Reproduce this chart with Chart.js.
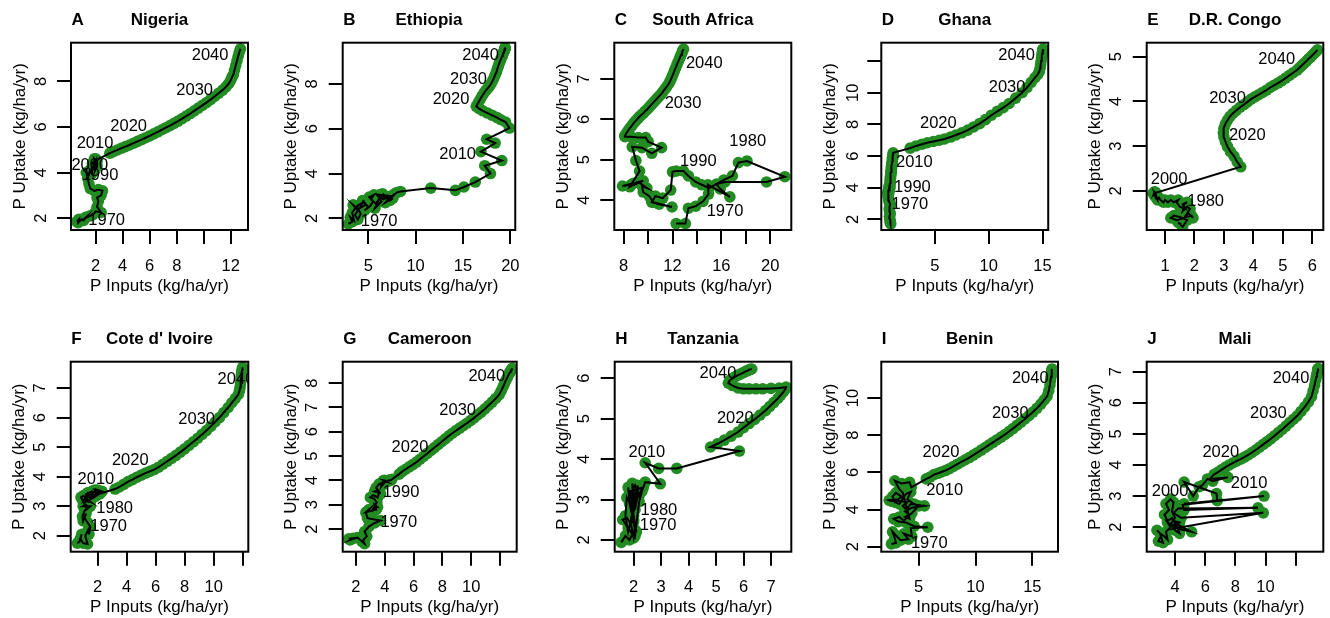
<!DOCTYPE html>
<html>
<head>
<meta charset="utf-8">
<script src="https://cdn.jsdelivr.net/npm/chart.js@4.4.1/dist/chart.umd.min.js"></script>
<style>
  body { margin: 0; background: #fff; }
  #wrap { position: relative; width: 1330px; height: 618px; }
  #wrap canvas { position: absolute; }
</style>
</head>
<body>
<div id="wrap"></div>
<script>
// ---- data: P inputs (x) vs P uptake (y), kg/ha/yr, one point per year 1961..2050
const countries = ['Nigeria', 'Ethiopia', 'South Africa', 'Ghana', 'D.R. Congo',
  "Cote d' Ivoire", 'Cameroon', 'Tanzania', 'Benin', 'Mali'];
const panelLetters = ['A', 'B', 'C', 'D', 'E', 'F', 'G', 'H', 'I', 'J'];

const nigeria = [
  [0.6,1.85],[0.75,1.95],[0.7,1.8],[0.95,1.95],[1.1,1.9],[1.3,2.05],[1.2,2.0],[1.6,2.1],[1.8,2.15],[2.0,2.3],
  [2.4,2.25],[2.1,2.5],[2.2,2.75],[2.1,2.9],[2.4,3.0],[2.5,3.2],[2.2,3.25],[1.9,3.2],[1.6,3.3],[1.5,3.5],
  [1.4,3.75],[1.5,3.9],[1.3,4.0],[1.45,3.85],[1.55,4.05],[1.7,3.95],[1.6,4.1],[1.75,4.0],[1.7,4.2],[1.85,4.3],
  [1.9,4.5],[1.75,4.4],[2.0,4.35],[1.9,4.6],[2.05,4.5],[1.85,4.2],[2.0,4.45],[1.95,4.1],[2.1,4.3],[1.9,4.55],
  [2.05,4.4],[1.95,4.25],[2.1,4.5],[1.9,4.35],[2.0,4.6],[1.95,4.45],[2.05,4.3],[1.95,4.5],[2.0,4.4],[2.05,4.55],
  [3.05,4.85],[3.3,4.92],[3.6,4.99],[3.9,5.07],[4.2,5.14],[4.5,5.21],[4.8,5.29],[5.1,5.37],[5.4,5.45],[5.7,5.53],
  [6.0,5.61],[6.3,5.7],[6.6,5.79],[6.9,5.88],[7.2,5.97],[7.5,6.06],[7.8,6.16],[8.1,6.26],[8.4,6.37],[8.7,6.48],
  [9.0,6.59],[9.3,6.71],[9.6,6.83],[9.9,6.95],[10.2,7.07],[10.5,7.2],[10.8,7.34],[11.1,7.48],[11.4,7.62],[11.65,7.76],
  [11.85,7.9],[12.0,8.05],[12.1,8.2],[12.2,8.3],[12.28,8.5],[12.37,8.7],[12.46,8.9],[12.55,9.1],[12.63,9.28],[12.72,9.43]
];
const ethiopia = [
  [2.9,1.75],[3.3,1.85],[3.1,2.05],[3.5,1.9],[3.3,2.25],[3.7,2.5],[3.4,2.6],[3.9,2.35],[3.6,2.15],[3.9,1.95],
  [4.2,2.2],[3.8,2.55],[4.4,2.7],[4.1,2.45],[4.7,2.6],[4.4,2.8],[5.0,2.5],[4.6,2.35],[5.2,2.55],[5.5,2.75],
  [5.1,2.95],[5.6,3.05],[5.3,2.85],[5.8,2.65],[6.2,2.9],[5.7,2.45],[6.4,2.75],[6.0,3.0],[6.6,2.85],[7.0,2.95],
  [6.5,3.1],[7.3,2.8],[7.6,2.9],[6.8,2.7],[7.4,3.0],[6.2,3.05],[7.1,2.85],[7.8,3.1],[7.5,2.95],[8.0,3.15],[8.4,3.2],
  [11.6,3.35],[14.2,3.25],[15.1,3.4],[16.3,3.62],[17.9,4.0],[17.3,4.35],[19.1,4.58],[16.9,4.98],[18.4,5.36],[17.5,5.53],[19.9,6.03],
  [19.5,6.3],[19.0,6.4],[18.6,6.5],[18.1,6.6],[17.6,6.7],[17.1,6.8],[16.7,6.9],[16.4,7.0],
  [16.6,7.15],[16.8,7.3],[17.0,7.45],[17.2,7.58],[17.4,7.7],[17.6,7.8],[17.8,7.9],[17.95,8.0],[18.1,8.12],[18.25,8.25],
  [18.4,8.4],[18.55,8.55],[18.65,8.7],[18.75,8.82],[18.85,8.95],[18.95,9.05],[19.05,9.15],[19.15,9.25],[19.2,9.32],[19.25,9.38],
  [19.3,9.42],[19.33,9.46],[19.36,9.49],[19.38,9.52],[19.4,9.54],[19.42,9.56],[19.43,9.58],[19.44,9.59],[19.45,9.6],[19.46,9.61]
];
const southAfrica = [
  [12.3,3.42],[13.05,3.42],[13.3,3.8],[13.9,3.85],[14.5,3.97],[14.95,4.15],[14.9,4.38],[16.7,4.08],[15.9,4.28],[15.6,4.4],
  [16.3,4.45],[19.7,4.45],[21.2,4.58],[18.1,4.97],[17.4,4.93],[16.9,4.6],[16.2,4.5],[15.0,4.3],[14.4,4.38],[13.9,4.45],
  [13.3,4.6],[12.9,4.72],[12.3,4.72],[12.0,4.7],[11.85,4.25],[11.2,4.05],[10.6,4.1],[10.3,3.95],[10.9,3.9],[11.96,3.83],
  [10.4,3.95],[10.1,4.1],[9.6,4.2],[9.5,4.35],[9.9,4.3],[9.2,4.45],[8.6,4.38],[7.9,4.35],[8.8,4.42],[9.6,4.48],
  [8.5,4.33],[9.3,4.72],[9.0,4.98],[8.7,5.32],[9.5,5.3],[10.3,5.16],[11.1,5.3],[10.0,5.45],[9.8,5.55],[9.2,5.55],[8.6,5.57],[8.1,5.57],
  [8.1,5.6],[8.25,5.67],[8.4,5.74],[8.55,5.8],[8.7,5.86],[8.85,5.92],[9.0,5.97],[9.15,6.02],[9.3,6.07],[9.45,6.11],
  [9.6,6.15],[9.75,6.2],[9.9,6.24],[10.05,6.29],[10.2,6.34],[10.35,6.39],[10.5,6.44],[10.65,6.49],[10.8,6.54],[10.95,6.59],
  [11.1,6.64],[11.25,6.7],[11.4,6.76],[11.55,6.82],[11.7,6.89],[11.82,6.96],[11.94,7.04],[12.05,7.12],[12.15,7.2],[12.25,7.27],
  [12.35,7.35],[12.45,7.42],[12.55,7.49],[12.63,7.55],[12.7,7.6],[12.77,7.65],[12.83,7.7],[12.9,7.74]
];
const ghana = [
  [0.85,1.8],[0.9,1.72],[0.85,1.9],[0.8,2.05],[0.78,2.2],[0.85,2.35],[0.8,2.5],[0.75,2.65],[0.82,2.8],[0.85,2.97],
  [0.78,3.05],[0.72,3.2],[0.68,3.35],[0.65,3.5],[0.7,3.6],[0.66,3.7],[0.7,3.78],[0.74,3.85],[0.7,3.72],[0.74,3.9],
  [0.68,3.82],[0.65,3.65],[0.7,3.75],[0.74,3.95],[0.76,4.05],[0.78,3.92],[0.75,4.1],[0.8,4.0],[0.78,3.95],[0.82,4.08],
  [0.8,4.2],[0.85,4.3],[0.83,4.45],[0.88,4.6],[0.86,4.7],[0.92,4.8],[0.9,4.95],[0.95,5.0],[0.93,5.1],[0.97,5.2],
  [0.95,5.3],[1.0,5.4],[1.02,5.5],[1.0,5.55],[1.04,5.65],[1.07,5.8],[1.05,5.9],[1.1,6.0],[1.12,6.1],[1.12,6.21],
  [2.7,6.5],[3.25,6.64],[3.8,6.75],[4.3,6.84],[4.85,6.92],[5.4,7.0],[5.9,7.08],[6.45,7.2],[6.95,7.33],[7.5,7.47],
  [8.05,7.64],[8.6,7.84],[9.15,8.05],[9.7,8.3],[10.25,8.58],[10.8,8.82],[11.35,9.06],[11.9,9.32],[12.5,9.66],[13.1,10.0],
  [13.55,10.32],[13.95,10.66],[14.3,10.95],[14.55,11.15],[14.7,11.33],[14.77,11.55],[14.82,11.78],[14.87,12.0],[14.91,12.2],[14.95,12.36],
  [14.98,12.48],[15.0,12.56],[15.02,12.62],[15.03,12.66],[15.04,12.69],[15.05,12.71],[15.05,12.72],[15.06,12.73],[15.06,12.74],[15.07,12.75]
];
const drCongo = [
  [1.55,1.25],[1.45,1.3],[1.6,1.2],[1.75,1.35],[1.5,1.42],[1.3,1.45],[1.2,1.4],[1.4,1.35],[1.65,1.4],[1.9,1.45],
  [1.95,1.4],[1.8,1.5],[1.7,1.45],[1.85,1.6],[1.75,1.65],[1.6,1.55],[1.65,1.7],[1.75,1.75],[1.6,1.7],[1.7,1.6],
  [1.5,1.65],[1.4,1.75],[1.45,1.8],[1.3,1.75],[1.2,1.8],[1.1,1.75],[1.0,1.8],[0.95,1.75],[0.85,1.8],[0.8,1.85],
  [0.75,1.8],[0.7,1.9],[0.65,1.95],[0.7,1.85],[0.6,1.95],[0.65,1.9],[0.7,1.95],[0.65,1.98],[0.62,1.93],[0.66,1.96],
  [0.63,1.94],[0.67,1.97],[0.64,1.95],[0.66,1.93],[0.63,1.96],[0.65,1.94],[0.64,1.97],[0.66,1.95],[0.65,1.96],[0.66,1.95],
  [3.57,2.54],[3.45,2.65],[3.34,2.78],[3.22,2.88],[3.12,2.99],[3.05,3.1],[3.0,3.2],[2.98,3.3],[3.0,3.4],[3.05,3.5],
  [3.12,3.58],[3.2,3.66],[3.3,3.73],[3.42,3.8],[3.55,3.87],[3.68,3.93],[3.8,3.99],[3.92,4.05],[4.05,4.1],[4.18,4.15],
  [4.31,4.2],[4.44,4.25],[4.57,4.31],[4.7,4.36],[4.83,4.41],[4.96,4.46],[5.09,4.52],[5.22,4.58],[5.35,4.64],[5.48,4.7],
  [5.56,4.75],[5.64,4.8],[5.72,4.85],[5.8,4.9],[5.87,4.95],[5.94,4.99],[6.0,5.03],[6.06,5.07],[6.12,5.11],[6.17,5.15]
];
const coteDIvoire = [
  [0.6,1.75],[0.75,1.8],[0.9,2.05],[0.8,1.9],[1.0,1.75],[1.3,1.72],[1.15,2.0],[1.35,2.2],[1.4,2.05],[1.5,2.3],
  [1.3,2.45],[1.1,2.6],[1.2,2.75],[1.0,2.5],[0.95,2.65],[1.1,2.85],[1.35,2.95],[1.2,3.05],[1.0,3.0],[1.5,3.0],
  [1.25,2.9],[1.05,3.1],[1.3,3.2],[1.5,3.15],[1.25,3.25],[0.95,3.2],[0.85,3.3],[1.0,3.35],[1.2,3.3],[1.45,3.4],
  [1.1,3.25],[1.35,3.15],[1.6,3.3],[1.3,3.45],[1.05,3.2],[1.4,3.35],[1.7,3.45],[1.5,3.25],[1.2,3.4],[1.6,3.5],
  [1.9,3.45],[1.7,3.3],[2.0,3.4],[1.8,3.55],[2.1,3.5],[1.9,3.35],[2.2,3.45],[2.0,3.55],[2.3,3.5],[2.15,3.42],
  [3.2,3.58],[3.5,3.65],[3.8,3.74],[4.1,3.83],[4.4,3.9],[4.7,3.98],[5.0,4.05],[5.3,4.12],[5.6,4.18],[5.9,4.24],
  [6.2,4.32],[6.5,4.42],[6.8,4.52],[7.1,4.62],[7.4,4.72],[7.7,4.83],[8.0,4.94],[8.3,5.06],[8.6,5.18],[8.9,5.3],
  [9.2,5.43],[9.5,5.56],[9.8,5.7],[10.1,5.85],[10.4,6.0],[10.7,6.17],[11.0,6.34],[11.25,6.5],[11.5,6.65],[11.7,6.78],
  [11.78,6.9],[11.82,7.02],[11.85,7.14],[11.88,7.26],[11.9,7.37],[11.92,7.46],[11.94,7.54],[11.96,7.6],[11.98,7.65],[12.0,7.7]
];
const cameroon = [
  [1.5,1.6],[1.8,1.62],[1.6,1.55],[2.1,1.65],[2.4,1.5],[2.6,1.4],[2.5,1.55],[2.75,1.7],[2.6,1.9],[2.9,2.1],
  [3.3,2.25],[3.7,2.35],[3.2,2.4],[2.8,2.45],[2.7,2.65],[2.9,2.8],[2.7,2.7],[3.1,2.75],[3.4,2.8],[3.3,3.0],
  [3.5,2.9],[3.2,2.85],[3.45,3.1],[3.25,3.25],[3.0,3.3],[3.2,3.4],[3.5,3.3],[3.6,3.5],[3.3,3.55],[3.55,3.6],
  [3.7,3.45],[3.4,3.7],[3.6,3.85],[3.8,3.9],[3.75,3.75],[3.95,3.95],[3.85,3.82],[4.0,3.92],[3.9,3.98],[4.1,3.95],
  [3.95,4.0],[4.2,3.97],[4.05,3.93],[4.3,4.0],[4.15,3.96],[4.35,4.02],[4.2,3.98],[4.4,4.0],[4.5,4.05],[5.0,4.26],
  [5.2,4.36],[5.45,4.46],[5.7,4.56],[5.95,4.65],[6.2,4.75],[6.45,4.87],[6.7,4.99],[6.95,5.11],[7.2,5.23],[7.45,5.35],
  [7.7,5.47],[7.95,5.59],[8.2,5.71],[8.45,5.83],[8.7,5.94],[8.95,6.05],[9.2,6.15],[9.45,6.25],[9.7,6.35],[9.95,6.46],
  [10.2,6.57],[10.45,6.69],[10.7,6.81],[10.95,6.94],[11.2,7.08],[11.45,7.22],[11.7,7.37],[11.95,7.53],[12.08,7.68],[12.2,7.83],
  [12.3,7.97],[12.4,8.1],[12.5,8.22],[12.58,8.32],[12.65,8.4],[12.7,8.46],[12.75,8.51],[12.79,8.55],[12.82,8.58],[12.85,8.61]
];
const tanzania = [
  [1.55,1.94],[1.7,2.1],[1.85,2.0],[1.95,2.15],[1.8,2.3],[1.6,2.5],[1.75,2.55],[1.9,2.4],[2.0,2.05],[2.05,2.25],
  [1.95,2.6],[1.85,2.9],[1.8,3.3],[1.9,2.85],[2.0,2.5],[1.95,3.4],[2.05,3.0],[2.0,2.7],[2.1,2.95],[2.05,2.75],
  [2.15,3.1],[2.3,3.25],[2.1,3.0],[1.95,2.8],[1.75,3.05],[1.7,2.6],[1.8,2.2],[1.9,2.5],[2.0,2.85],[2.1,3.15],
  [2.2,3.3],[2.05,3.05],[1.9,2.75],[2.0,2.45],[2.1,2.2],[2.0,2.6],[1.85,3.1],[2.05,3.35],[2.2,3.1],[2.35,3.3],
  [1.85,3.2],[2.0,2.9],[2.15,3.35],[1.9,2.35],[2.05,2.1],[2.2,2.95],[2.3,3.2],[2.42,3.43],[2.97,3.39],[2.42,3.91],
  [2.91,3.77],[3.57,3.77],[5.85,4.2],[4.8,4.3],[5.05,4.38],[5.3,4.47],[5.55,4.57],[5.8,4.67],[6.0,4.78],[6.2,4.88],
  [6.4,4.98],[6.6,5.09],[6.8,5.2],[6.95,5.3],[7.1,5.4],[7.25,5.5],[7.35,5.58],[7.45,5.66],[7.52,5.73],[7.55,5.78],
  [7.3,5.76],[7.0,5.75],[6.7,5.74],[6.45,5.74],[6.2,5.74],[6.0,5.74],[5.8,5.76],[5.6,5.82],[5.45,5.88],[5.5,5.95],
  [5.6,6.0],[5.7,6.04],[5.8,6.08],[5.9,6.11],[6.0,6.14],[6.08,6.17],[6.15,6.19],[6.2,6.21],[6.25,6.22],[6.3,6.23]
];
const benin = [
  [2.6,2.15],[3.0,2.2],[2.9,2.45],[2.7,2.8],[3.0,2.6],[3.4,2.35],[4.1,2.4],[3.7,2.7],[4.4,2.55],[4.3,3.0],
  [5.8,3.05],[4.6,3.1],[3.9,3.3],[3.2,3.35],[2.8,3.5],[3.3,3.6],[3.7,3.4],[4.2,3.7],[3.8,3.9],[4.4,4.1],
  [5.5,4.2],[4.3,4.3],[3.9,4.0],[3.6,4.2],[4.0,4.4],[3.0,4.48],[2.6,4.45],[2.4,4.5],[3.2,4.55],[3.5,4.7],
  [3.0,4.9],[2.7,4.7],[2.9,4.4],[3.3,4.3],[3.6,4.6],[3.9,4.85],[4.3,4.95],[4.0,4.55],[4.6,4.3],[5.0,4.2],
  [4.4,3.8],[3.8,3.6],[4.2,3.5],[3.6,4.9],[3.3,5.1],[2.9,5.55],[3.5,5.4],[4.2,5.47],[4.35,5.2],[5.67,5.65],
  [6.0,5.75],[6.35,5.88],[6.7,5.95],[7.0,6.02],[7.35,6.1],[7.7,6.2],[8.05,6.32],[8.4,6.44],[8.75,6.56],[9.1,6.68],
  [9.45,6.8],[9.8,6.93],[10.15,7.06],[10.5,7.2],[10.85,7.34],[11.2,7.48],[11.55,7.62],[11.9,7.76],[12.25,7.9],[12.6,8.04],
  [12.95,8.2],[13.3,8.36],[13.65,8.53],[14.0,8.7],[14.35,8.88],[14.7,9.06],[15.05,9.25],[15.4,9.45],[15.75,9.68],[16.05,9.9],
  [16.3,10.1],[16.45,10.4],[16.55,10.7],[16.6,10.95],[16.65,11.15],[16.68,11.3],[16.7,11.4],[16.72,11.48],[16.73,11.53],[16.74,11.57]
];
const mali = [
  [2.8,1.9],[3.1,1.75],[2.9,1.55],[3.2,1.5],[3.0,1.8],[3.3,1.7],[3.5,1.6],[3.4,1.85],[3.7,2.0],[3.5,2.15],
  [3.8,2.05],[4.0,1.9],[4.3,1.8],[4.2,1.95],[5.1,1.85],[4.1,2.1],[3.8,2.3],[3.5,2.2],[3.3,2.4],[3.6,2.55],
  [3.4,2.75],[3.7,2.9],[3.9,2.8],[3.8,2.5],[4.0,2.3],[3.7,2.1],[4.1,2.05],[3.9,2.2],[4.3,2.15],[4.0,2.0],
  [3.85,1.95],[9.85,2.46],[4.4,2.3],[3.9,2.45],[4.2,2.6],[9.5,2.62],[4.6,2.55],[4.5,2.72],[9.9,3.0],[4.6,2.75],
  [6.8,2.85],[6.75,3.08],[4.6,3.45],[5.2,3.0],[5.6,3.3],[5.8,3.34],[6.15,3.55],[6.5,3.48],[7.5,3.6],[6.3,3.55],
  [6.6,3.7],[6.85,3.77],[7.1,3.85],[7.35,3.93],[7.6,4.0],[7.85,4.07],[8.1,4.13],[8.35,4.19],[8.6,4.25],[8.85,4.32],
  [9.1,4.4],[9.35,4.48],[9.6,4.57],[9.85,4.66],[10.1,4.75],[10.35,4.84],[10.6,4.94],[10.85,5.04],[11.1,5.14],[11.35,5.25],
  [11.6,5.36],[11.85,5.47],[12.1,5.58],[12.35,5.72],[12.6,5.87],[12.85,6.03],[13.05,6.2],[13.15,6.38],[13.25,6.56],[13.32,6.72],
  [13.37,6.84],[13.41,6.93],[13.44,6.99],[13.46,7.03],[13.47,7.05],[13.48,7.07],[13.48,7.08],[13.49,7.09],[13.49,7.1]
];

// year tags: [text, x, y] in data units
const nigeriaTags = [['1970',2.81,1.92],['1990',2.32,3.87],['2000',1.56,4.31],['2010',1.95,5.26],['2020',4.44,6.02],['2030',9.33,7.6],['2040',10.47,9.14]];
const ethiopiaTags = [['1970',6.14,1.85],['2010',14.44,4.86],['2020',13.74,7.29],['2030',15.58,8.19],['2040',16.86,9.26]];
const southAfricaTags = [['1970',16.3,3.73],['1980',18.16,5.45],['1990',14.11,4.97],['2030',12.86,6.4],['2040',14.6,7.39]];
const ghanaTags = [['1970',2.68,2.97],['1990',2.91,4.0],['2010',3.09,5.6],['2020',5.32,8.07],['2030',11.71,10.32],['2040',12.59,12.38]];
const drCongoTags = [['1980',2.38,1.76],['2000',1.14,2.25],['2020',3.79,3.23],['2030',3.12,4.07],['2040',4.79,4.94]];
const coteDIvoireTags = [['1970',2.76,2.32],['1980',3.17,2.94],['2010',1.88,3.9],['2020',4.25,4.54],['2030',8.83,5.95],['2040',11.54,7.28]];
const cameroonTags = [['1970',4.97,2.28],['1990',5.13,3.51],['2020',5.75,5.36],['2030',9.06,6.89],['2040',11.08,8.26]];
const tanzaniaTags = [['1970',2.89,2.35],['1980',2.92,2.74],['2010',2.48,4.17],['2020',5.7,5.0],['2040',5.07,6.13]];
const beninTags = [['1970',5.93,2.19],['2010',7.29,5.02],['2020',6.96,7.05],['2030',13.06,9.18],['2040',14.82,11.08]];
const maliTags = [['2000',3.67,3.14],['2010',8.91,3.42],['2020',7.03,4.41],['2030',10.19,5.66],['2040',11.69,6.79]];

// axis ticks per panel (and which ticks R left unlabelled)
const xTickValues = [[2,4,6,8,10,12],[5,10,15,20],[8,10,12,14,16,18,20],[5,10,15],[1,2,3,4,5,6],
  [2,4,6,8,10,12],[2,4,6,8,10,12],[2,3,4,5,6,7],[5,10,15],[4,6,8,10,12]];
const xTickHidden = [[10],[],[10,14,18],[],[],[12],[12],[],[],[12]];
const yTickValues = [[2,4,6,8],[2,4,6,8],[4,5,6,7],[2,4,6,8,10,12],[2,3,4,5],
  [2,3,4,5,6,7],[2,3,4,5,6,7,8],[2,3,4,5,6],[2,4,6,8,10],[2,3,4,5,6,7]];
const yTickHidden = [[],[],[],[12],[],[],[],[],[],[]];

const seriesList = [nigeria, ethiopia, southAfrica, ghana, drCongo, coteDIvoire, cameroon, tanzania, benin, mali];
const tagList = [nigeriaTags, ethiopiaTags, southAfricaTags, ghanaTags, drCongoTags, coteDIvoireTags, cameroonTags, tanzaniaTags, beninTags, maliTags];

// ---- layout (canvas-local plot boxes: left, right, top, bottom) and axis ranges
const W = 266, H = 309;
const boxes = [
  [71, 248, 42.7, 230], [76.7, 252.3, 42.7, 230], [82.3, 259.3, 42.7, 230], [83.3, 260, 42.7, 230], [82.7, 259.3, 42.7, 230],
  [70.7, 248.3, 52.7, 242.7], [76.7, 250.7, 52.7, 242.7], [82.7, 259.3, 52.7, 242.7], [83.3, 260, 52.7, 242.7], [82.7, 259.3, 52.7, 242.7]
];
const xRanges = [[0.17,13.28],[2.30,20.52],[7.23,21.73],[0.02,15.53],[0.38,6.37],[0.14,12.39],[1.08,13.16],[1.31,7.74],[1.71,17.26],[2.12,13.83]];
const yRanges = [[1.48,9.70],[1.48,9.84],[3.26,7.90],[1.33,13.16],[1.13,5.31],[1.46,7.89],[1.07,8.88],[1.71,6.41],[1.73,11.96],[1.21,7.32]];

const FONT = '"Liberation Sans", Arial, Helvetica, sans-serif';
const TICK_SIZE = 16.5, LAB_SIZE = 17;
const GREEN = '#228B22';
Chart.defaults.font.family = FONT;
Chart.defaults.color = '#000';

// year tags go on top of the points, clipped to the plot box as R does
const panelDeco = {
  id: 'panelDeco',
  afterDatasetsDraw(chart, args, opts) {
    const {ctx, chartArea: a, scales: {x, y}} = chart;
    ctx.save();
    ctx.beginPath();
    ctx.rect(a.left, a.top, a.right - a.left, a.bottom - a.top);
    ctx.clip();
    ctx.fillStyle = '#000';
    ctx.font = TICK_SIZE + 'px ' + FONT;
    ctx.textAlign = 'center';
    ctx.textBaseline = 'middle';
    opts.tags.forEach(t => ctx.fillText(t[0], x.getPixelForValue(t[1]), y.getPixelForValue(t[2])));
    ctx.restore();
  },
  afterDraw(chart, args, opts) {
    const {ctx, chartArea: a} = chart;
    ctx.save();
    ctx.strokeStyle = '#000';
    ctx.lineWidth = 2;
    ctx.strokeRect(a.left, a.top, a.right - a.left, a.bottom - a.top);
    ctx.fillStyle = '#000';
    ctx.font = 'bold ' + LAB_SIZE + 'px ' + FONT;
    ctx.textBaseline = 'alphabetic';
    ctx.textAlign = 'left';
    ctx.fillText(opts.letter, a.left + 0.5, a.top - 17.7);
    ctx.textAlign = 'center';
    ctx.fillText(opts.name, (a.left + a.right) / 2, a.top - 17.7);
    ctx.restore();
  }
};

const wrap = document.getElementById('wrap');
const lhLab = LAB_SIZE * 1.2, lhTick = TICK_SIZE * 1.2, digitW = 0.556 * TICK_SIZE;

seriesList.forEach((series, i) => {
  const col = i % 5, row = Math.floor(i / 5);
  const [bl, br, bt, bb] = boxes[i];
  const cv = document.createElement('canvas');
  cv.width = W; cv.height = H;
  cv.style.left = (col * W) + 'px';
  cv.style.top = (row * H) + 'px';
  wrap.appendChild(cv);

  const pts = series.map(p => ({x: p[0], y: p[1]}));
  const shownY = yTickValues[i].filter(v => !yTickHidden[i].includes(v));
  const widest = Math.max(...shownY.map(v => String(v).length)) * digitW;
  const yLabelDist = widest > digitW * 1.5 ? 28 : 30;

  new Chart(cv, {
    type: 'scatter',
    data: {
      datasets: [
        {type: 'line', data: pts, borderColor: '#000', borderWidth: 2, pointRadius: 0, fill: false, tension: 0, order: 0},
        {data: pts, backgroundColor: GREEN, borderColor: GREEN, pointRadius: 5.8, pointHoverRadius: 5.8, pointBorderWidth: 0, order: 1}
      ]
    },
    options: {
      responsive: false,
      animation: false,
      devicePixelRatio: 1,
      events: [],
      layout: {padding: {left: 0, top: bt, right: W - br, bottom: 0}},
      plugins: {
        legend: {display: false},
        tooltip: {enabled: false},
        panelDeco: {letter: panelLetters[i], name: countries[i], tags: tagList[i]}
      },
      scales: {
        x: {
          type: 'linear', min: xRanges[i][0], max: xRanges[i][1], bounds: 'data',
          afterBuildTicks: s => { s.ticks = xTickValues[i].map(v => ({value: v})); },
          afterFit: s => { s.height = H - bb; },
          ticks: {
            autoSkip: false, maxRotation: 0, minRotation: 0, padding: 36 - 14 - lhTick / 2,
            font: {size: TICK_SIZE, lineHeight: 1.2}, color: '#000',
            callback: v => xTickHidden[i].includes(v) ? '' : String(v)
          },
          grid: {display: true, drawOnChartArea: false, drawTicks: true, tickLength: 14, color: '#000', lineWidth: 2},
          border: {display: false},
          title: {
            display: true, text: 'P Inputs (kg/ha/yr)', color: '#000',
            font: {size: LAB_SIZE, lineHeight: 1.2},
            padding: {top: 0, bottom: Math.max(0, H - lhLab / 2 - bb - 56.5)}
          }
        },
        y: {
          type: 'linear', min: yRanges[i][0], max: yRanges[i][1], bounds: 'data',
          afterBuildTicks: s => { s.ticks = yTickValues[i].map(v => ({value: v})); },
          afterFit: s => { s.width = bl; },
          ticks: {
            autoSkip: false, minRotation: 90, maxRotation: 90, crossAlign: 'center',
            padding: yLabelDist - 14 - widest / 2,
            font: {size: TICK_SIZE, lineHeight: 1.2}, color: '#000',
            callback: v => yTickHidden[i].includes(v) ? '' : String(v)
          },
          grid: {display: true, drawOnChartArea: false, drawTicks: true, tickLength: 14, color: '#000', lineWidth: 2},
          border: {display: false},
          title: {
            display: true, text: 'P Uptake (kg/ha/yr)', color: '#000',
            font: {size: LAB_SIZE, lineHeight: 1.2},
            padding: {top: Math.max(0, bl - 51 - lhLab / 2), bottom: 0}
          }
        }
      }
    },
    plugins: [panelDeco]
  });
});
</script>
</body>
</html>
